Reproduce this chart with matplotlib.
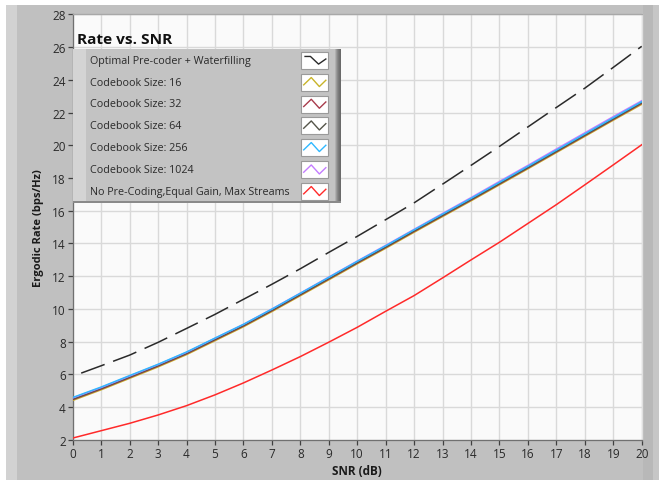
import matplotlib
matplotlib.use("Agg")
import matplotlib.pyplot as plt
from matplotlib.patches import Rectangle
from matplotlib.lines import Line2D

plt.rcParams['font.family'] = ['Open Sans', 'DejaVu Sans']
plt.rcParams['lines.scale_dashes'] = False

# ---------------- data ----------------
snr_db = [0, 1, 2, 3, 4, 5, 6, 7, 8, 9, 10, 11, 12, 13, 14, 15, 16, 17, 18, 19, 20]
optimal = [5.88, 6.52, 7.17, 7.95, 8.80, 9.66, 10.58, 11.50, 12.45, 13.45, 14.43,
           15.45, 16.48, 17.62, 18.77, 19.93, 21.12, 22.31, 23.49, 24.76, 26.05]
cb16 = [4.40, 5.05, 5.75, 6.45, 7.20, 8.05, 8.90, 9.83, 10.80, 11.77, 12.75,
        13.70, 14.68, 15.64, 16.60, 17.58, 18.56, 19.55, 20.54, 21.53, 22.50]
cb32 = [4.45, 5.10, 5.80, 6.50, 7.25, 8.10, 8.95, 9.88, 10.85, 11.82, 12.80,
        13.75, 14.73, 15.69, 16.65, 17.63, 18.61, 19.60, 20.59, 21.58, 22.56]
cb64 = [4.48, 5.13, 5.83, 6.53, 7.28, 8.13, 8.98, 9.91, 10.88, 11.85, 12.83,
        13.78, 14.76, 15.72, 16.68, 17.66, 18.64, 19.63, 20.62, 21.61, 22.60]
cb256 = [4.58, 5.22, 5.92, 6.61, 7.36, 8.21, 9.05, 9.98, 10.95, 11.92, 12.90,
         13.85, 14.83, 15.79, 16.75, 17.73, 18.71, 19.70, 20.69, 21.68, 22.66]
cb1024 = [4.55, 5.19, 5.89, 6.59, 7.34, 8.20, 9.05, 9.99, 10.96, 11.94, 12.92,
          13.88, 14.86, 15.83, 16.80, 17.79, 18.77, 19.77, 20.76, 21.75, 22.72]
no_precoding = [2.10, 2.55, 3.00, 3.51, 4.08, 4.74, 5.47, 6.26, 7.08, 7.96, 8.87,
                9.85, 10.81, 11.89, 12.99, 14.07, 15.22, 16.37, 17.58, 18.80, 20.03]

series_labels = ["Optimal Pre-coder + Waterfilling", "Codebook Size: 16", "Codebook Size: 32",
                 "Codebook Size: 64", "Codebook Size: 256", "Codebook Size: 1024",
                 "No Pre-Coding,Equal Gain, Max Streams"]
x_ticks = list(range(0, 21))
y_ticks = list(range(2, 29, 2))
title_text = "Rate vs. SNR"
x_label = "SNR (dB)"
y_label = "Ergodic Rate (bps/Hz)"

# ---------------- layout ----------------
W, H = 659, 481
fig = plt.figure(figsize=(W / 100, H / 100), dpi=100)
fig.patch.set_facecolor('white')

def fx(px):
    return px / W

def fy(py):
    return 1 - py / H

def frect(x0, y0, x1, y1, **kw):
    r = Rectangle((fx(x0), fy(y1)), fx(x1) - fx(x0), fy(y0) - fy(y1),
                  transform=fig.transFigure, **kw)
    fig.add_artist(r)
    return r

# outer panel
frect(6, 6, W, H, facecolor='#c0c0c0', edgecolor='none', zorder=-5)
frect(6, 6, 17, H, facecolor='#d2d2d2', edgecolor='none', zorder=-4)
frect(643, 6, 653, H, facecolor='#b8b8b8', edgecolor='none', zorder=-4)
frect(653, 6, W, H, facecolor='#c6c6c6', edgecolor='none', zorder=-4)

ax_l, ax_r, ax_t, ax_b = 72.7, 641.7, 15.4, 440.7
ax = fig.add_axes([fx(ax_l), fy(ax_b), fx(ax_r) - fx(ax_l), fy(ax_t) - fy(ax_b)])
ax.set_facecolor('#fafafa')
ax.set_xlim(0, 20)
ax.set_ylim(2, 28)
ax.set_xticks(x_ticks)
ax.set_yticks(y_ticks)
ax.grid(True, color='#d9d9d9', linewidth=1.0)
ax.set_axisbelow(True)
ax.tick_params(direction='out', length=3.5, width=0.9, color='#404040',
               labelsize=8.5, labelcolor='#2a2a2a', pad=1.5)
for s in ['left', 'bottom']:
    ax.spines[s].set_color('#707070')
    ax.spines[s].set_linewidth(0.9)
ax.spines['top'].set_color('#a8a8a8')
ax.spines['right'].set_color('#e0e0e0')
ax.spines['top'].set_linewidth(1.0)
ax.spines['right'].set_linewidth(1.0)

lw = 1.1
ax.plot(snr_db, optimal, color='#2a2a2a', linewidth=lw,
        linestyle=(18, (18, 6.5)), zorder=3)
ax.plot(snr_db, cb16, color='#c8b42a', linewidth=lw, zorder=3)
ax.plot(snr_db, cb32, color='#a83c4c', linewidth=lw, zorder=3)
ax.plot(snr_db, cb64, color='#55554a', linewidth=lw, zorder=3)
ax.plot(snr_db, cb1024, color='#c47cff', linewidth=lw, zorder=3)
ax.plot(snr_db, cb256, color='#2fb8ff', linewidth=lw, zorder=3)
ax.plot(snr_db, no_precoding, color='#ff2a2a', linewidth=lw, zorder=3)

ax.set_xlabel(x_label, fontsize=8.5, fontweight='bold', color='#1a1a1a', labelpad=3)
ax.set_ylabel(y_label, fontsize=8.0, fontweight='bold', color='#1a1a1a', labelpad=6)

renderer = fig.canvas.get_renderer()

def fit(t, target_w):
    bb = t.get_window_extent(renderer)
    if bb.width > 0:
        t.set_fontsize(t.get_fontsize() * target_w / bb.width)

# title
tt = fig.text(fx(77), fy(39.5), title_text, fontsize=12, fontweight='bold',
              color='#111111', ha='left', va='center', zorder=10)
fit(tt, 95)

# legend
leg_l, leg_r, leg_t, leg_b = 73, 341, 49.5, 203.5
frect(leg_l, leg_t, leg_r, leg_b, facecolor='#c3c3c3', edgecolor='none', zorder=6)
frect(leg_l, leg_t, leg_l + 13, leg_b, facecolor='#d4d4d4', edgecolor='none', zorder=6.1)
for i, c in enumerate(['#b0b0b0', '#9a9a9a', '#888888', '#7a7a7a', '#707070', '#6a6a6a']):
    frect(leg_r - 6 + i, leg_t, leg_r - 5 + i, leg_b, facecolor=c, edgecolor='none', zorder=6.2)
frect(leg_l, leg_b - 1.5, leg_r, leg_b, facecolor='#8a8a8a', edgecolor='none', zorder=6.2)

row_y = [61.7, 83.3, 105.0, 126.7, 148.3, 170.7, 192.3]
legend_colors = ['#2a2a2a', '#c8b42a', '#a83c4c', '#55554a', '#2fb8ff', '#c47cff', '#ff2a2a']
texts = []
for i, (lab, col) in enumerate(zip(series_labels, legend_colors)):
    t = fig.text(fx(90), fy(row_y[i]), lab, fontsize=7.5, color='#2a2a2a',
                 ha='left', va='center', zorder=10)
    texts.append(t)
    bx0, bx1 = 301, 328
    by0, by1 = row_y[i] - 8.5, row_y[i] + 8.5
    frect(bx0, by0, bx1, by1, facecolor='white', edgecolor='#9a9a9a', linewidth=0.8, zorder=7)
    if i == 0:
        pts = [(0.15, 0.75), (0.35, 0.75), (0.65, 0.3), (0.92, 0.6)]
    else:
        pts = [(0.1, 0.35), (0.38, 0.78), (0.68, 0.25), (0.92, 0.62)]
    xs = [fx(bx0 + p[0] * (bx1 - bx0)) for p in pts]
    ys = [fy(by1 - p[1] * (by1 - by0)) for p in pts]
    fig.add_artist(Line2D(xs, ys, color=col, linewidth=1.0, transform=fig.transFigure, zorder=8))

bb = texts[0].get_window_extent(renderer)
scale = 162.0 / bb.width
for t in texts:
    t.set_fontsize(t.get_fontsize() * scale)

fig.savefig('out.png', dpi=100, facecolor=fig.get_facecolor())
